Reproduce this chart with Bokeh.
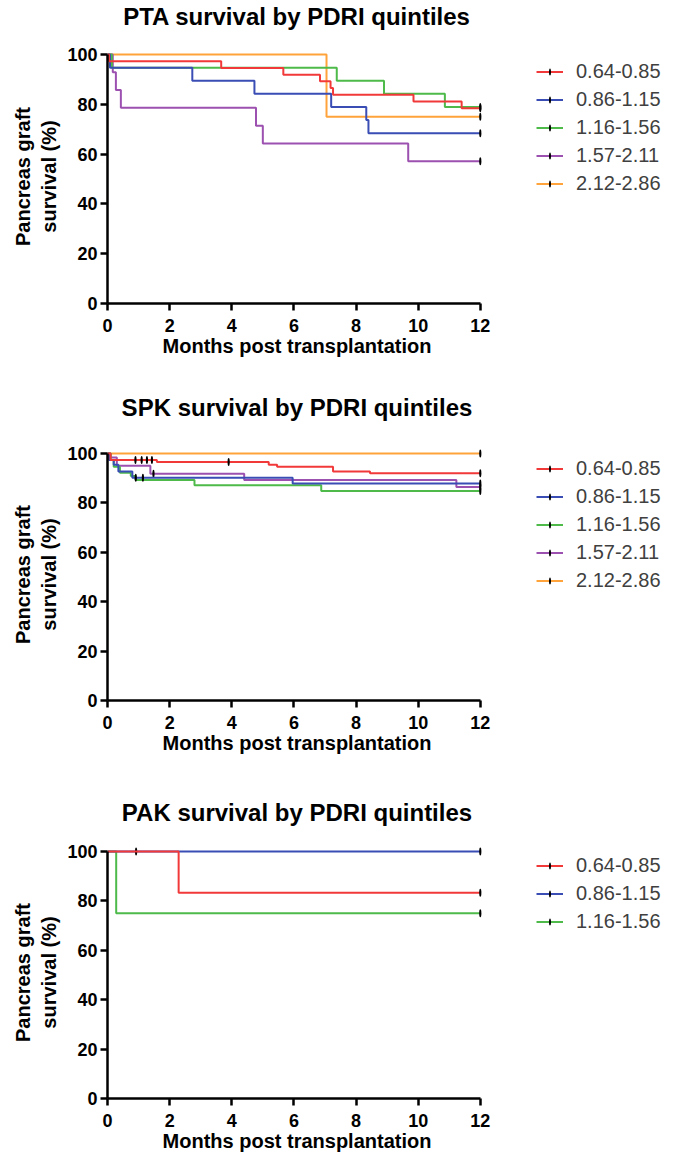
from bokeh.plotting import figure
from bokeh.models import Range1d, Legend, LegendItem, FixedTicker, Title
from bokeh.layouts import column
from bokeh.embed import file_html
from bokeh.resources import INLINE

# ---------------- data ----------------
groups = ["0.64-0.85", "0.86-1.15", "1.16-1.56", "1.57-2.11", "2.12-2.86"]
colors = ["#f2393a", "#3a4db5", "#4dba4a", "#9c50b0", "#ffa33a"]
x_ticks = [0, 2, 4, 6, 8, 10, 12]
y_ticks = [0, 20, 40, 60, 80, 100]

# PTA
pta_red_t = [0, 0.05, 3.66, 5.66, 6.84, 7.18, 7.26, 9.85, 11.4, 12]
pta_red_s = [100, 97.3, 94.6, 91.9, 89.2, 86.5, 83.8, 81.1, 78.4, 78.4]
pta_blue_t = [0, 0.08, 2.73, 4.73, 7.2, 8.33, 8.4, 12]
pta_blue_s = [100, 94.7, 89.5, 84.2, 78.9, 73.7, 68.4, 68.4]
pta_green_t = [0, 0.14, 7.38, 8.9, 10.86, 12]
pta_green_s = [100, 94.7, 89.5, 84.2, 78.9, 78.9]
pta_purple_t = [0, 0.17, 0.27, 0.43, 4.78, 5.0, 9.68, 12]
pta_purple_s = [100, 92.9, 85.7, 78.6, 71.4, 64.3, 57.1, 57.1]
pta_orange_t = [0, 7.05, 12]
pta_orange_s = [100, 75, 75]
pta_cens_t = [[12], [12], [12], [12], [12]]
pta_cens_s = [[78.4], [68.4], [78.9], [57.1], [75]]

# SPK
spk_red_t = [0, 0.1, 1.59, 5.19, 5.46, 7.26, 8.45, 12]
spk_red_s = [100, 97.3, 96.5, 95.4, 94.6, 92.7, 92.0, 92.0]
spk_blue_t = [0, 0.05, 0.2, 0.35, 0.8, 5.96, 12]
spk_blue_s = [100, 97.3, 95.4, 92.7, 90.2, 87.8, 87.8]
spk_green_t = [0, 0.1, 0.2, 0.4, 0.75, 0.9, 2.8, 6.88, 12]
spk_green_s = [100, 97.3, 94.6, 92.2, 90.9, 89.3, 87.1, 84.8, 84.8]
spk_purple_t = [0, 0.1, 0.3, 1.38, 4.4, 11.23, 12]
spk_purple_s = [100, 98.4, 95.0, 91.8, 89.3, 86.4, 86.4]
spk_orange_t = [0, 12]
spk_orange_s = [100, 100]
spk_cens_t = [[0.9, 1.1, 1.27, 1.43, 3.9, 12], [0.91, 1.14, 12], [12], [1.48, 12], [12]]
spk_cens_s = [[97.3, 97.3, 97.3, 97.3, 96.5, 92.0], [90.2, 90.2, 87.8], [84.8], [91.8, 86.4], [100]]

# PAK
pak_red_t = [0, 2.29, 12]
pak_red_s = [100, 83.3, 83.3]
pak_blue_t = [0, 12]
pak_blue_s = [100, 100]
pak_green_t = [0, 0.28, 12]
pak_green_s = [100, 75, 75]
pak_cens_t = [[12], [0.92, 12], [12]]
pak_cens_s = [[83.3], [100, 100], [75]]

FONT = "Liberation Sans"


def make_panel(title, times, survs, cens_t, cens_s, spacer, H, B, legend_top):
    p = figure(frame_width=379, frame_height=H,
               min_border_left=107, min_border_right=188,
               min_border_top=0, min_border_bottom=B,
               x_range=Range1d(0, 12.2), y_range=Range1d(0, 102),
               output_backend="svg", toolbar_location=None)
    p.title.text = ""
    p.title.standoff = 0
    # spacer between title and frame, then the title itself
    p.add_layout(Title(text=" ", text_font_size="1px", standoff=spacer), "above")
    p.add_layout(Title(text=title, align="center", text_font=FONT, text_font_size="24px",
                       text_font_style="bold", text_color="black", standoff=1), "above")

    p.grid.visible = False
    p.outline_line_color = None
    for ax in (p.xaxis[0], p.yaxis[0]):
        ax.axis_line_width = 2.5
        ax.axis_line_color = "black"
        ax.major_tick_line_width = 2.5
        ax.major_tick_line_color = "black"
        ax.major_tick_in = 0
        ax.major_tick_out = 7
        ax.minor_tick_line_color = None
        ax.major_label_text_font = FONT
        ax.major_label_text_font_size = "18px"
        ax.major_label_text_font_style = "bold"
        ax.major_label_text_color = "black"
        ax.axis_label_text_font = FONT
        ax.axis_label_text_font_size = "20px"
        ax.axis_label_text_font_style = "bold"
        ax.axis_label_text_color = "black"
    p.xaxis.ticker = FixedTicker(ticks=x_ticks)
    p.yaxis.ticker = FixedTicker(ticks=y_ticks)
    p.xaxis.bounds = (0, 12)
    p.yaxis.bounds = (0, 100)
    p.xaxis.axis_label = "Months post transplantation"
    p.yaxis.axis_label = "Pancreas graft\nsurvival (%)"
    p.xaxis.major_label_standoff = 8
    p.xaxis.axis_label_standoff = 0
    p.yaxis.major_label_standoff = 3
    p.yaxis.axis_label_standoff = 4

    n = len(times)
    lines = [None] * n
    marks = [None] * n
    for i in reversed(range(n)):
        lines[i] = p.step(times[i], survs[i], mode="after", line_color=colors[i], line_width=2)
        # censoring ticks: thin vertical marks
        marks[i] = p.ellipse(cens_t[i], cens_s[i], width=2.2, height=8,
                             width_units="screen", height_units="screen",
                             fill_color="black", line_color=None)
    items = [LegendItem(label=groups[i], renderers=[lines[i], marks[i]]) for i in range(n)]
    leg_h = n * 23 + (n - 1) * 5
    legend = Legend(items=items, location=(50, H - legend_top - leg_h))
    legend.label_text_font = FONT
    legend.label_text_font_size = "20px"
    legend.label_text_color = "#404040"
    legend.glyph_width = 27
    legend.glyph_height = 9
    legend.label_height = 20
    legend.spacing = 5
    legend.padding = 0
    legend.margin = 0
    legend.label_standoff = 13
    legend.border_line_color = None
    legend.background_fill_alpha = 0
    p.add_layout(legend, "right")
    return p


p1 = make_panel("PTA survival by PDRI quintiles",
                [pta_red_t, pta_blue_t, pta_green_t, pta_purple_t, pta_orange_t],
                [pta_red_s, pta_blue_s, pta_green_s, pta_purple_s, pta_orange_s],
                pta_cens_t, pta_cens_s, spacer=16, H=254, B=88, legend_top=11)
p2 = make_panel("SPK survival by PDRI quintiles",
                [spk_red_t, spk_blue_t, spk_green_t, spk_purple_t, spk_orange_t],
                [spk_red_s, spk_blue_s, spk_green_s, spk_purple_s, spk_orange_s],
                spk_cens_t, spk_cens_s, spacer=24, H=252, B=96, legend_top=9)
p3 = make_panel("PAK survival by PDRI quintiles",
                [pak_red_t, pak_blue_t, pak_green_t],
                [pak_red_s, pak_blue_s, pak_green_s],
                pak_cens_t, pak_cens_s, spacer=17, H=252, B=50, legend_top=8)

layout = column(p1, p2, p3, spacing=0)
open("out.html", "w").write(file_html(layout, INLINE))
